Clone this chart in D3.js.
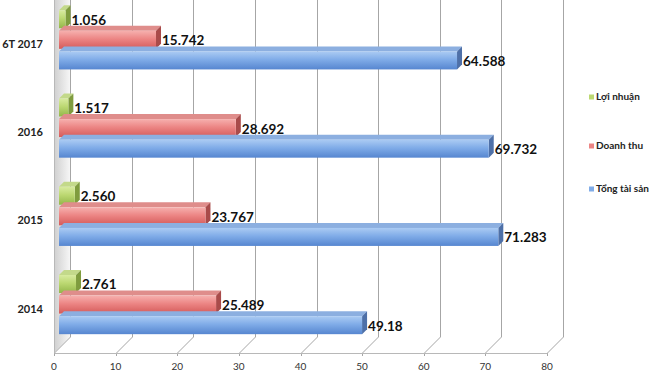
<!DOCTYPE html>
<html>
<head>
<meta charset="utf-8">
<script src="https://cdn.jsdelivr.net/npm/d3@7"></script>
<style>
  html, body { margin: 0; padding: 0; background: #fff; }
  svg { display: block; font-family: Lato, "Open Sans", sans-serif; }
</style>
</head>
<body>
<div id="chart"></div>
<script>
// categories from top to bottom
const categories = ["6T 2017", "2016", "2015", "2014"];
const seriesNames = ["Lợi nhuận", "Doanh thu", "Tổng tài sản"];
const loiNhuan  = [1.056, 1.517, 2.560, 2.761];
const doanhThu  = [15.742, 28.692, 23.767, 25.489];
const tongTaiSan = [64.588, 69.732, 71.283, 49.18];
const loiNhuanLabels  = ["1.056", "1.517", "2.560", "2.761"];
const doanhThuLabels  = ["15.742", "28.692", "23.767", "25.489"];
const tongTaiSanLabels = ["64.588", "69.732", "71.283", "49.18"];
const xTicks = [0, 10, 20, 30, 40, 50, 60, 70, 80];

const series = [
  { name: seriesNames[0], values: loiNhuan, labels: loiNhuanLabels,
    front: ["#d8eba0", "#bcd872", "#93b64a"], top: "#c3d98a", side: "#7f9c3e" },
  { name: seriesNames[1], values: doanhThu, labels: doanhThuLabels,
    front: ["#f6b0ae", "#ec8584", "#d45b5a"], top: "#df8d8b", side: "#a94b4a" },
  { name: seriesNames[2], values: tongTaiSan, labels: tongTaiSanLabels,
    front: ["#abcbf3", "#80ace8", "#5686d0"], top: "#8cafe0", side: "#4e70a8" }
];

const width = 664, height = 373;
const floorY = 353;      // front edge of the floor
const wall = 16;         // depth of the walls
const ox = 5, oy = -3;   // bar front face offset into the depth
const bd = 5;            // bar depth

const svg = d3.select("#chart").append("svg")
  .attr("width", width).attr("height", height);

const x = d3.scaleLinear().domain([0, 80]).range([54, 547]);
const y = d3.scaleBand().domain(categories).range([0, floorY])
  .paddingInner(0.3).paddingOuter(0.15);
const yInner = d3.scaleBand().domain(seriesNames).range([0, y.bandwidth()]);
const faceH = 18;

// gradients
const defs = svg.append("defs");
series.forEach((s, i) => {
  const g = defs.append("linearGradient").attr("id", "grad" + i)
    .attr("x1", 0).attr("y1", 0).attr("x2", 0).attr("y2", 1);
  g.append("stop").attr("offset", "0%").attr("stop-color", s.front[0]);
  g.append("stop").attr("offset", "45%").attr("stop-color", s.front[1]);
  g.append("stop").attr("offset", "100%").attr("stop-color", s.front[2]);
});
const wg = defs.append("linearGradient").attr("id", "wallGrad")
  .attr("x1", 0).attr("y1", 0).attr("x2", 1).attr("y2", 0);
wg.append("stop").attr("offset", "0%").attr("stop-color", "#cfcfcf");
wg.append("stop").attr("offset", "100%").attr("stop-color", "#f6f6f6");

// left wall
const x0 = x(0);
svg.append("path")
  .attr("d", `M${x0},0 L${x0 + wall},0 L${x0 + wall},${floorY - wall} L${x0},${floorY} Z`)
  .attr("fill", "url(#wallGrad)");

// back wall gridlines + floor diagonals
const grid = svg.append("g").attr("stroke", "#a6a6a6").attr("stroke-width", 1).attr("fill", "none");
xTicks.forEach(t => {
  const px = Math.round(x(t)) + 0.5;
  grid.append("line").attr("x1", px + wall).attr("x2", px + wall)
    .attr("y1", 0).attr("y2", floorY - wall);
  grid.append("line").attr("x1", px).attr("y1", floorY)
    .attr("x2", px + wall).attr("y2", floorY - wall);
  grid.append("line").attr("x1", px).attr("x2", px)
    .attr("y1", floorY).attr("y2", floorY + 3);
});
// front axis edges
grid.append("line").attr("x1", Math.round(x0) + 0.5).attr("x2", Math.round(x(80)) + 0.5)
  .attr("y1", floorY + 0.5).attr("y2", floorY + 0.5).attr("stroke", "#b8b8b8");
grid.append("line").attr("x1", Math.round(x0) + 0.5).attr("x2", Math.round(x0) + 0.5)
  .attr("y1", 0).attr("y2", floorY).attr("stroke", "#b8b8b8");

// bars
const bars = svg.append("g");
categories.forEach((cat, ci) => {
  series.forEach((s, si) => {
    const v = s.values[ci];
    const xl = x(0) + ox, xr = x(v) + ox;
    const yt = y(cat) + yInner(s.name) + oy, yb = yt + faceH;
    const g = bars.append("g");
    g.append("path")
      .attr("d", `M${xl},${yt} L${xr},${yt} L${xr + bd},${yt - bd} L${xl + bd},${yt - bd} Z`)
      .attr("fill", s.top);
    g.append("path")
      .attr("d", `M${xr},${yt} L${xr + bd},${yt - bd} L${xr + bd},${yb - bd} L${xr},${yb} Z`)
      .attr("fill", s.side);
    g.append("rect").attr("x", xl).attr("y", yt)
      .attr("width", xr - xl).attr("height", faceH)
      .attr("fill", `url(#grad${si})`);
    g.append("text")
      .attr("x", xr + bd + 1).attr("y", yt + faceH / 2 + 2)
      .attr("dominant-baseline", "middle")
      .style("font-size", "13.5px").style("font-weight", "bold").style("fill", "#111")
      .text(s.labels[ci]);
  });
});

// category labels
svg.append("g").selectAll("text").data(categories).join("text")
  .attr("x", 43).attr("y", d => y(d) + y.bandwidth() / 2 + 1)
  .attr("text-anchor", "end").attr("dominant-baseline", "middle")
  .style("font-size", "11px").style("font-weight", "bold").style("fill", "#222")
  .text(d => d);

// x tick labels
svg.append("g").selectAll("text").data(xTicks).join("text")
  .attr("x", d => x(d)).attr("y", 367)
  .attr("text-anchor", "middle").attr("dominant-baseline", "middle")
  .style("font-size", "10px").style("fill", "#333")
  .text(d => d);

// legend (reversed order: Lợi nhuận on top)
const legendY = [97, 146, 189];
const legend = svg.append("g");
series.forEach((s, i) => {
  legend.append("rect").attr("x", 589).attr("y", legendY[i] - 2.5)
    .attr("width", 5).attr("height", 5).attr("fill", s.front[1]);
  legend.append("text").attr("x", 596).attr("y", legendY[i])
    .attr("dominant-baseline", "middle")
    .style("font-size", "10px").style("font-weight", "bold").style("fill", "#222")
    .text(s.name);
});
</script>
</body>
</html>
